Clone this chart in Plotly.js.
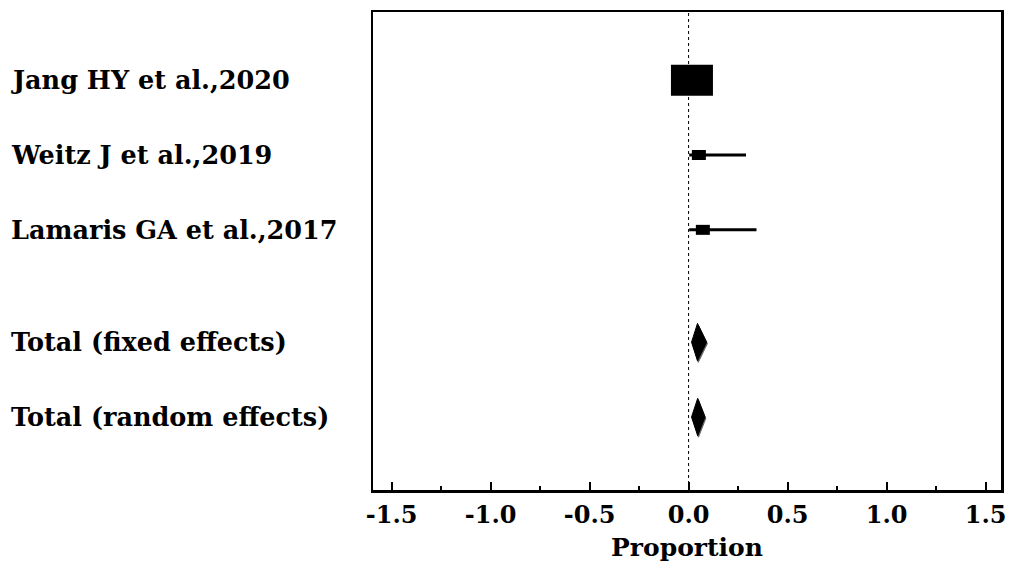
<!DOCTYPE html>
<html>
<head>
<meta charset="utf-8">
<script src="https://cdn.plot.ly/plotly-3.0.1.min.js"></script>
<style>
html,body{margin:0;padding:0;background:#fff;}
#chart{width:1009px;height:563px;}
</style>
</head>
<body>
<div id="chart"></div>
<script>
// ---- data ----
const studies = ["Jang HY et al.,2020", "Weitz J et al.,2019", "Lamaris GA et al.,2017"];
const studyEst = [0.017, 0.052, 0.072];
const studyLo  = [0.000, 0.003, 0.003];
const studyHi  = [0.040, 0.290, 0.343];

const totals   = ["Total (fixed effects)", "Total (random effects)"];
const totalEst = [0.045, 0.046];
const totalLo  = [0.015, 0.015];
const totalHi  = [0.091, 0.083];

const tickVals   = [-1.5, -1.0, -0.5, 0.0, 0.5, 1.0, 1.5];
const tickLabels = ["-1.5", "-1.0", "-0.5", "0.0", "0.5", "1.0", "1.5"];

// ---- layout constants (positions / styles) ----
const studyRows = [5, 4, 3];
const totalRows = [1.5, 0.5];
const boxW = [42, 14, 14];   // px
const boxH = [31, 10, 10];   // px
const diamondHalf = 0.25;    // y units
const FONT = "DejaVu Serif";
const LABEL_SIZE = 25.5;

const traces = [];
const shapes = [];
const annotations = [];

// dotted null line
shapes.push({type:'line', xref:'x', yref:'paper', x0:0, x1:0, y0:0, y1:1,
  line:{color:'#000', width:1, dash:'dot'}, layer:'below'});

studies.forEach((s, i) => {
  traces.push({type:'scatter', mode:'lines', x:[studyLo[i], studyHi[i]], y:[studyRows[i], studyRows[i]],
    line:{color:'#000', width:3}, hoverinfo:'skip', showlegend:false});
  shapes.push({type:'rect', xref:'x', yref:'y', xsizemode:'pixel', ysizemode:'pixel',
    xanchor: studyEst[i], yanchor: studyRows[i],
    x0:-boxW[i]/2, x1:boxW[i]/2, y0:-boxH[i]/2, y1:boxH[i]/2,
    fillcolor:'#000', line:{color:'#000', width:0}});
  annotations.push({xref:'paper', yref:'y', x:-0.580, y:studyRows[i], xanchor:'left', yanchor:'middle',
    text:s, showarrow:false, font:{family:FONT, size:LABEL_SIZE, color:'#000', weight:'bold'}});
});

totals.forEach((s, i) => {
  const r = totalRows[i];
  // faint shadow outline
  traces.push({type:'scatter', mode:'lines', fill:'toself',
    x:[totalLo[i]+0.004, totalEst[i]+0.004, totalHi[i]+0.004, totalEst[i]+0.004, totalLo[i]+0.004],
    y:[r-0.02, r+diamondHalf-0.02, r-0.02, r-diamondHalf-0.02, r-0.02],
    fillcolor:'#666', line:{color:'#666', width:1}, hoverinfo:'skip', showlegend:false});
  traces.push({type:'scatter', mode:'lines', fill:'toself',
    x:[totalLo[i], totalEst[i], totalHi[i], totalEst[i], totalLo[i]],
    y:[r, r+diamondHalf, r, r-diamondHalf, r],
    fillcolor:'#000', line:{color:'#000', width:1}, hoverinfo:'skip', showlegend:false});
  annotations.push({xref:'paper', yref:'y', x:-0.580, y:r, xanchor:'left', yanchor:'middle',
    text:s, showarrow:false, font:{family:FONT, size:LABEL_SIZE, color:'#000', weight:'bold'}});
});

const layout = {
  width:1009, height:563,
  margin:{l:373, r:8, t:12, b:73, pad:0},
  paper_bgcolor:'#fff', plot_bgcolor:'#fff',
  showlegend:false,
  xaxis:{
    range:[-1.594, 1.578], showgrid:false, zeroline:false,
    showline:true, mirror:true, linecolor:'#000', linewidth:2.5,
    ticks:'inside', ticklen:8, tickwidth:2, tickcolor:'#000',
    tickvals:tickVals, ticktext:tickLabels,
    minor:{dtick:0.25, tick0:0, ticks:'inside', ticklen:4, tickwidth:1.5, tickcolor:'#000', showgrid:false},
    ticklabelstandoff:2,
    tickfont:{family:FONT, size:24, color:'#000', weight:'bold'},
    title:{text:'Proportion', standoff:10, font:{family:FONT, size:25, color:'#000', weight:'bold'}},
    fixedrange:true
  },
  yaxis:{
    range:[-0.475, 5.91], showgrid:false, zeroline:false,
    showline:true, mirror:true, linecolor:'#000', linewidth:2.5,
    ticks:'', showticklabels:false, fixedrange:true
  },
  shapes:shapes,
  annotations:annotations
};

Plotly.newPlot('chart', traces, layout, {staticPlot:true, displayModeBar:false});
</script>
</body>
</html>
